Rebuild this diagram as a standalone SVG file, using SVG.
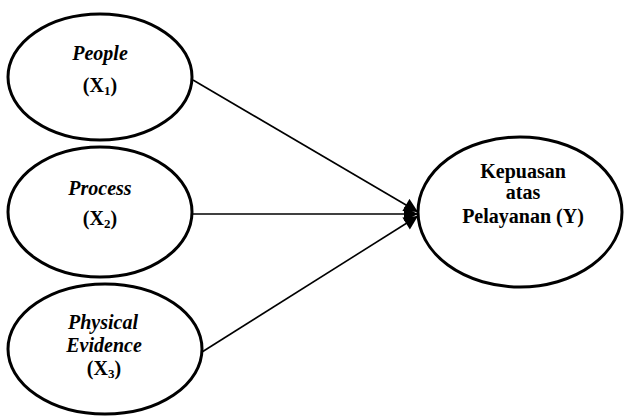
<svg xmlns="http://www.w3.org/2000/svg" width="627" height="417" viewBox="0 0 627 417">
<defs>
<style>
.node ellipse{fill:#fff;stroke:#000;stroke-width:3}
.t{font-family:"Liberation Serif","Times New Roman",serif;font-weight:bold;font-size:20px;text-anchor:middle;fill:#000}
.i{font-style:italic}
.c line{stroke:#000;stroke-width:1.6}
</style>
<marker id="ah" viewBox="0 0 10 10" refX="10" refY="5" markerWidth="16" markerHeight="14" markerUnits="userSpaceOnUse" orient="auto">
<path d="M0,0 L10,5 L0,10 Z" fill="#000"/>
</marker>
</defs>
<rect width="627" height="417" fill="#fff"/>
<g id="connectors" class="c">
<line x1="193" y1="80" x2="418" y2="212" marker-end="url(#ah)"/>
<line x1="193" y1="214" x2="418" y2="214" stroke-width="2.2" marker-end="url(#ah)"/>
<line x1="202" y1="352" x2="418" y2="216" marker-end="url(#ah)"/>
</g>
<g id="people" class="node">
<ellipse cx="100" cy="77" rx="92" ry="63"/>
<text class="t i" x="100" y="60">People</text>
<text class="t" x="100" y="92">(X<tspan font-size="13" dy="3">1</tspan><tspan dy="-3">)</tspan></text>
</g>
<g id="process" class="node">
<ellipse cx="100" cy="212" rx="92" ry="65"/>
<text class="t i" x="100" y="195">Process</text>
<text class="t" x="100" y="225">(X<tspan font-size="13" dy="3">2</tspan><tspan dy="-3">)</tspan></text>
</g>
<g id="physical" class="node">
<ellipse cx="105" cy="349" rx="97" ry="65"/>
<text class="t i" x="103" y="329">Physical</text>
<text class="t i" x="104" y="352">Evidence</text>
<text class="t" x="104" y="375">(X<tspan font-size="13" dy="3">3</tspan><tspan dy="-3">)</tspan></text>
</g>
<g id="kepuasan" class="node">
<ellipse cx="520" cy="212" rx="102" ry="75"/>
<text class="t" x="523" y="178">Kepuasan</text>
<text class="t" x="523" y="199">atas</text>
<text class="t" x="523" y="223">Pelayanan (Y)</text>
</g>
</svg>
